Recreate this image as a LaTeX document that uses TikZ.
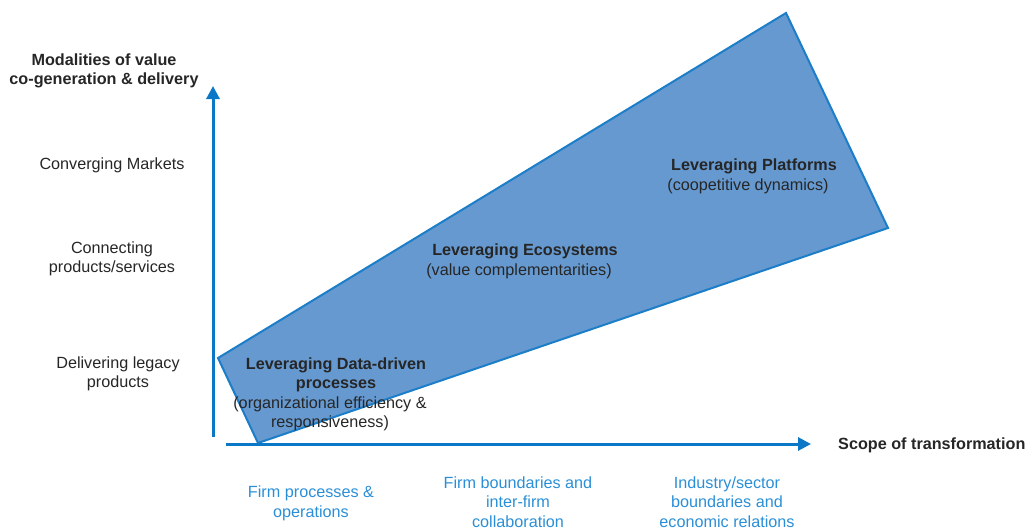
\documentclass[tikz,border=0pt]{standalone}
\usepackage{fontspec}
\setmainfont{Liberation Sans}
\usetikzlibrary{arrows.meta}
\definecolor{axisblue}{HTML}{0A78C6}
\definecolor{areafill}{HTML}{6699D0}
\definecolor{areaedge}{HTML}{1C7EC8}
\definecolor{scopeblue}{HTML}{2A8FD6}
\definecolor{inktext}{HTML}{262626}
\tikzset{
  lbl/.style={font=\fontsize{16.2}{19.5}\selectfont, text=inktext, inner sep=0pt, align=center},
  boldlbl/.style={lbl, font=\fontsize{16.2}{19.5}\selectfont\bfseries},
  scopelbl/.style={lbl, text=scopeblue},
  axis/.style={axisblue, line width=3pt, -{Triangle[width=13pt,length=13pt]}},
}
\begin{document}
\begin{tikzpicture}[x=1pt, y=-1pt]
\useasboundingbox (0,0) rectangle (1030,530);

% transformation area
\coordinate (pl) at (218,358);
\coordinate (pt) at (786,13);
\coordinate (pr) at (888,228);
\coordinate (pb) at (258,443);
\filldraw[fill=areafill, draw=areaedge, line width=2pt, line join=miter] (pl) -- (pt) -- (pr) -- (pb) -- cycle;

% axes
\coordinate (yo) at (213,437);
\coordinate (yt) at (213,86);
\coordinate (xo) at (226,444);
\coordinate (xt) at (811,444);
\draw[axis] (yo) -- (yt);
\draw[axis] (xo) -- (xt);

% axis titles
\node[boldlbl] (ytitle) at (104,71) {Modalities of value\\co-generation \& delivery};
\node[boldlbl, anchor=west] (xtitle) at (838,445) {Scope of transformation};

% modalities
\node[lbl] (m1) at (112,165) {Converging Markets};
\node[lbl] (m2) at (112,259) {Connecting\\products/services};
\node[lbl] (m3) at (118,374) {Delivering legacy\\products};

% scopes
\node[scopelbl] (s1) at (311,503.5) {Firm processes \&\\operations};
\node[scopelbl] (s2) at (518,502) {Firm boundaries and\\inter-firm\\collaboration};
\node[scopelbl] (s3) at (727,502) {Industry/sector\\boundaries and\\economic relations};

% stages inside the area
\node[boldlbl] (d1) at (336,375) {Leveraging Data-driven\\processes};
\node[lbl] (d2) at (330,414) {(organizational efficiency \&\\responsiveness)};
\node[boldlbl] (e1) at (525,251) {Leveraging Ecosystems};
\node[lbl] (e2) at (519,271) {(value complementarities)};
\node[boldlbl] (p1) at (754,166) {Leveraging Platforms};
\node[lbl] (p2) at (748,186) {(coopetitive dynamics)};
\end{tikzpicture}
\end{document}
